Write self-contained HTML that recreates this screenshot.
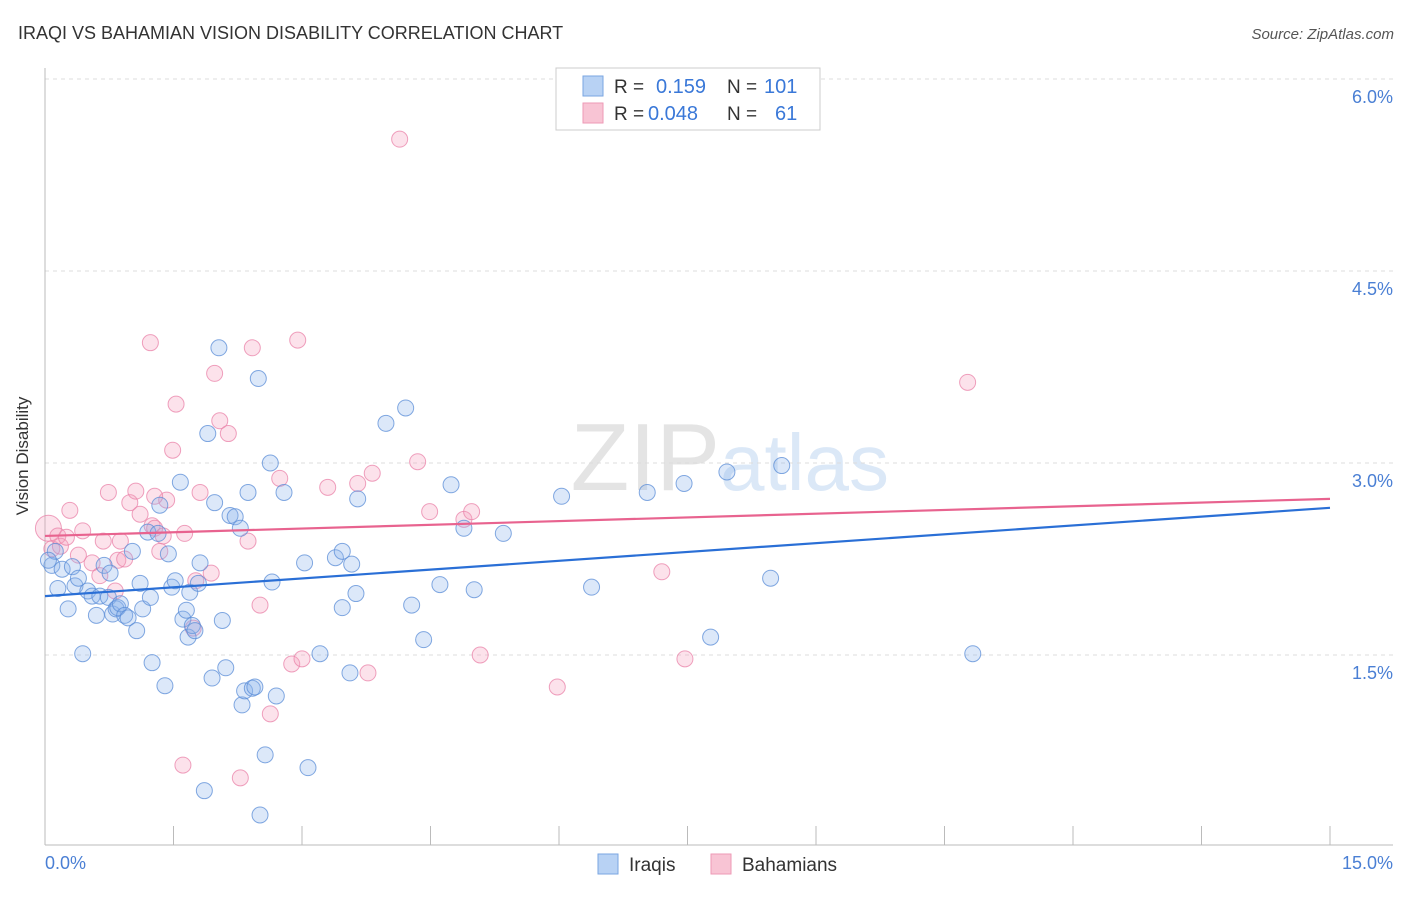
<!DOCTYPE html>
<html><head><meta charset="utf-8"><style>
body{margin:0;background:#fff;font-family:"Liberation Sans",sans-serif;}
svg text{font-family:"Liberation Sans",sans-serif;}
</style></head><body>
<svg id="chart" width="1406" height="892" viewBox="0 0 1406 892">
<text x="18" y="39" font-size="18" fill="#333">IRAQI VS BAHAMIAN VISION DISABILITY CORRELATION CHART</text>
<text x="1394" y="39" font-size="15" fill="#555" font-style="italic" text-anchor="end">Source: ZipAtlas.com</text>
<text x="720" y="490" font-size="96" fill="#e4e4e4" text-anchor="end" font-family="Liberation Serif">ZIP</text>
<text x="720" y="490" font-size="80" fill="#dbe8f7">atlas</text>
<g id="grid"></g>
<line x1="45" y1="68" x2="45" y2="845" stroke="#bbb"/>
<line x1="45" y1="845" x2="1393" y2="845" stroke="#bbb"/>
<text x="28" y="456" font-size="17" fill="#333" text-anchor="middle" transform="rotate(-90 28 456)">Vision Disability</text>
<text x="45" y="869" font-size="18" fill="#4a7fd4">0.0%</text>
<text x="1393" y="869" font-size="18" fill="#4a7fd4" text-anchor="end">15.0%</text>
<g id="pts"></g>
<g id="lines"></g>
<g>
<rect x="556" y="68" width="264" height="62" fill="#fff" stroke="#ccc"/>
<rect x="583" y="76" width="20" height="20" fill="#b8d2f4" stroke="#7aa6e2"/>
<rect x="583" y="103" width="20" height="20" fill="#f8c4d4" stroke="#ee9ab6"/>
<text x="614" y="93" font-size="19" fill="#333">R =</text><text x="656" y="93" font-size="20" fill="#3a78d8">0.159</text>
<text x="727" y="93" font-size="19" fill="#333">N =</text><text x="764" y="93" font-size="20" fill="#3a78d8">101</text>
<text x="614" y="120" font-size="19" fill="#333">R =</text><text x="648" y="120" font-size="20" fill="#3a78d8">0.048</text>
<text x="727" y="120" font-size="19" fill="#333">N =</text><text x="775" y="120" font-size="20" fill="#3a78d8">61</text>
</g>
<g>
<rect x="598" y="854" width="20" height="20" fill="#b8d2f4" stroke="#7aa6e2"/>
<text x="629" y="871" font-size="19" fill="#333">Iraqis</text>
<rect x="711" y="854" width="20" height="20" fill="#f8c4d4" stroke="#ee9ab6"/>
<text x="742" y="871" font-size="19" fill="#333">Bahamians</text>
</g>
</svg>
<script>
const yTicks=[1.5,3.0,4.5,6.0];
const xTicks=[0,1.5,3,4.5,6,7.5,9,10.5,12,13.5,15];
const iraqiX=[.08,.12,.15,.20,.27,.32,.35,.39,.44,.50,.55,.60,.64,.69,.74,.76,.79,.83,.85,.88,.93,.97,1.02,1.07,1.11,1.14,1.20,1.23,1.25,1.32,1.34,1.40,1.44,1.48,1.52,1.58,1.61,1.65,1.67,1.69,1.72,1.75,1.79,1.81,1.86,1.90,1.95,1.98,2.03,2.07,2.11,2.16,2.22,2.28,2.30,2.33,2.37,2.42,2.45,2.49,2.51,2.57,2.63,2.65,2.70,2.79,3.03,3.07,3.21,3.39,3.47,3.47,3.56,3.58,3.63,3.65,3.98,4.21,4.28,4.42,4.61,4.74,4.89,5.01,5.35,6.03,6.38,7.03,7.46,7.77,7.96,8.47,8.60,10.83,.04];
const iraqiY=[2.20,2.31,2.02,2.17,1.86,2.19,2.04,2.10,1.51,2.00,1.96,1.81,1.96,2.20,1.95,2.14,1.82,1.86,1.87,1.90,1.81,1.79,2.31,1.69,2.06,1.86,2.46,1.95,1.44,2.45,2.67,1.26,2.29,2.03,2.08,2.85,1.78,1.85,1.64,1.99,1.73,1.69,2.06,2.22,0.44,3.23,1.32,2.69,3.90,1.77,1.40,2.59,2.58,2.49,1.11,1.22,2.77,1.24,1.25,3.66,0.25,0.72,3.00,2.07,1.18,2.77,2.22,0.62,1.51,2.26,2.31,1.87,1.36,2.21,1.98,2.72,3.31,3.43,1.89,1.62,2.05,2.83,2.49,2.01,2.45,2.74,2.03,2.77,2.84,1.64,2.93,2.10,2.98,1.51,2.24];
const bahX=[.04,.08,.15,.18,.25,.29,.39,.44,.55,.64,.68,.74,.82,.85,.88,.93,.99,1.06,1.11,1.23,1.25,1.28,1.34,1.38,1.42,1.49,1.53,1.61,1.63,1.76,1.81,1.94,1.98,2.04,2.14,2.28,2.37,2.42,2.51,2.63,2.74,2.88,2.95,3.00,3.30,3.65,3.77,3.82,4.14,4.35,4.49,4.89,4.98,5.08,5.98,7.20,7.47,10.77,1.73,1.28];
const bahY=[2.49,2.33,2.43,2.35,2.42,2.63,2.28,2.47,2.22,2.12,2.39,2.77,2.00,2.24,2.39,2.25,2.69,2.78,2.60,3.94,2.51,2.49,2.31,2.43,2.71,3.10,3.46,0.64,2.45,2.08,2.77,2.14,3.70,3.33,3.23,0.54,2.39,3.90,1.89,1.04,2.88,1.43,3.96,1.47,2.81,2.84,1.36,2.92,5.53,3.01,2.62,2.56,2.62,1.50,1.25,2.15,1.47,3.63,1.71,2.74];
const iraqiTrend=[1.96,2.65];
const bahTrend=[2.43,2.72];
const NS='http://www.w3.org/2000/svg';
const xs=v=>45+v/15*1285;
const ys=v=>847-v*128;
function mk(tag,attrs,parent){const e=document.createElementNS(NS,tag);for(const k in attrs)e.setAttribute(k,attrs[k]);parent.appendChild(e);return e;}
const grid=document.getElementById('grid');
yTicks.forEach(t=>{
 const l=mk('line',{x1:45,x2:1393,y1:ys(t),y2:ys(t),stroke:'#ddd','stroke-dasharray':'4 4'},grid);
 
 
 const tx=mk('text',{x:1393,y:ys(t)+24,'font-size':18,fill:'#4a7fd4','text-anchor':'end'},grid);
 tx.textContent=t.toFixed(1)+'%';
 
 
});
xTicks.forEach(t=>{
 const l=mk('line',{x1:xs(t),x2:xs(t),y1:826,y2:845,stroke:'#bbb'},grid);
 
 
});
const pts=document.getElementById('pts');
bahX.forEach((x,i)=>{
 const c=mk('circle',{cx:xs(x),cy:ys(bahY[i]),r:i===0?13:8,fill:'rgba(244,160,190,0.3)',stroke:'rgba(234,130,168,0.75)','stroke-width':1},pts);
 
 
});
iraqiX.forEach((x,i)=>{
 const c=mk('circle',{cx:xs(x),cy:ys(iraqiY[i]),r:8,fill:'rgba(140,180,235,0.3)',stroke:'rgba(90,140,215,0.75)','stroke-width':1},pts);
 
 
});
const lines=document.getElementById('lines');
const lb=mk('line',{x1:xs(0),x2:xs(15),y1:ys(iraqiTrend[0]),y2:ys(iraqiTrend[1]),stroke:'#2a6fd6','stroke-width':2.2},lines);


const lp=mk('line',{x1:xs(0),x2:xs(15),y1:ys(bahTrend[0]),y2:ys(bahTrend[1]),stroke:'#e8638f','stroke-width':2.2},lines);


</script>
</body></html>
